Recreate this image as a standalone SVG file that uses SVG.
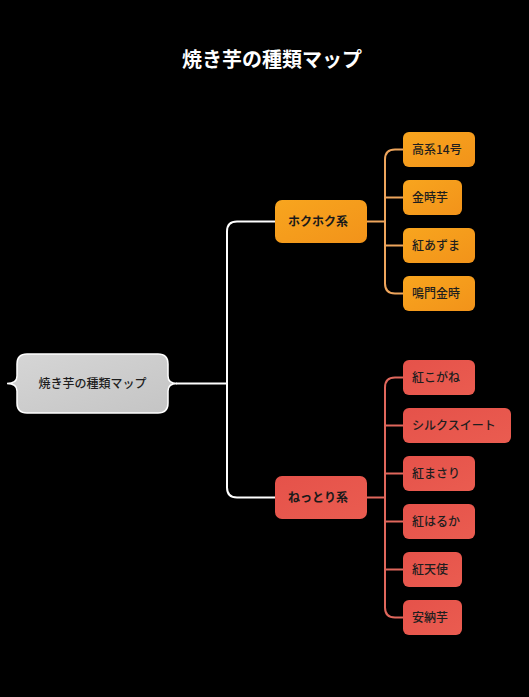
<svg xmlns="http://www.w3.org/2000/svg" width="529" height="697" viewBox="0 0 529 697">
<defs>
<linearGradient id="gO" x1="0" y1="0" x2="1" y2="1"><stop offset="0" stop-color="#f8a51e"/><stop offset="1" stop-color="#f2931a"/></linearGradient>
<linearGradient id="gR" x1="0" y1="0" x2="1" y2="1"><stop offset="0" stop-color="#e5524a"/><stop offset="1" stop-color="#ea5c50"/></linearGradient>
<linearGradient id="gG" x1="0" y1="0" x2="1" y2="1"><stop offset="0" stop-color="#d6d6d6"/><stop offset="1" stop-color="#c4c4c4"/></linearGradient>
</defs>
<style>
text{font-family:"Noto Sans CJK JP","Noto Sans",sans-serif}
.t{font-size:20px;font-weight:bold;fill:#fff}
.o{fill:url(#gO)}
.r{fill:url(#gR)}
.lbl{font-size:12px;font-weight:500;fill:#1e1e1e}
.main{font-size:12px;font-weight:bold;fill:#1a1a1a}
.cw{fill:none;stroke:#fff;stroke-width:2}
.co{fill:none;stroke:#eea55c;stroke-width:2}
.cr{fill:none;stroke:#e0675c;stroke-width:2}
</style>
<rect width="529" height="697" fill="#000"/>
<text class="t" x="272" y="67" text-anchor="middle">焼き芋の種類マップ</text>
<g id="connectors">
<path class="cw" d="M176,383.5 H227"/>
<path class="cw" d="M275,221.5 H237 Q227,221.5 227,231.5 V487.5 Q227,497.5 237,497.5 H275"/>
<path class="co" d="M367,221.5 H385 M403,149.5 H395 Q385,149.5 385,159.5 V283.5 Q385,293.5 395,293.5 H403 M385,197.5 H403 M385,245.5 H403"/>
<path class="cr" d="M367,497.5 H385 M403,377.5 H395 Q385,377.5 385,387.5 V607.5 Q385,617.5 395,617.5 H403 M385,425.5 H403 M385,473.5 H403 M385,521.5 H403 M385,569.5 H403"/>
</g>
<g id="root">
<path d="M27,354 H158 Q168,354 168,364 V376 Q168,383.5 177,383.5 Q168,383.5 168,391 V403 Q168,413 158,413 H27 Q17,413 17,403 V391 Q17,383.5 7,383.5 Q17,383.5 17,376 V364 Q17,354 27,354 Z" fill="url(#gG)" stroke="#fff" stroke-width="1.5"/>
<text class="lbl" x="92.5" y="388" text-anchor="middle">焼き芋の種類マップ</text>
</g>
<g id="hokuhoku"><rect class="o" x="275" y="200" width="92" height="43" rx="7"/><text class="main" x="288" y="226">ホクホク系</text></g>
<g id="leaf-kokei14"><rect class="o" x="403" y="132" width="72" height="35" rx="6"/><text class="lbl" x="412" y="154">高系14号</text></g>
<g id="leaf-kintoki"><rect class="o" x="403" y="180" width="59" height="35" rx="6"/><text class="lbl" x="412" y="202">金時芋</text></g>
<g id="leaf-beniazuma"><rect class="o" x="403" y="228" width="72" height="35" rx="6"/><text class="lbl" x="412" y="250">紅あずま</text></g>
<g id="leaf-narutokintoki"><rect class="o" x="403" y="276" width="72" height="35" rx="6"/><text class="lbl" x="412" y="298">鳴門金時</text></g>
<g id="nettori"><rect class="r" x="275" y="476" width="92" height="43" rx="7"/><text class="main" x="288" y="502">ねっとり系</text></g>
<g id="leaf-benikogane"><rect class="r" x="403" y="360" width="72" height="35" rx="6"/><text class="lbl" x="412" y="382">紅こがね</text></g>
<g id="leaf-silksweet"><rect class="r" x="403" y="408" width="108" height="35" rx="6"/><text class="lbl" x="412" y="430">シルクスイート</text></g>
<g id="leaf-benimasari"><rect class="r" x="403" y="456" width="72" height="35" rx="6"/><text class="lbl" x="412" y="478">紅まさり</text></g>
<g id="leaf-beniharuka"><rect class="r" x="403" y="504" width="72" height="35" rx="6"/><text class="lbl" x="412" y="526">紅はるか</text></g>
<g id="leaf-benitenshi"><rect class="r" x="403" y="552" width="59" height="35" rx="6"/><text class="lbl" x="412" y="574">紅天使</text></g>
<g id="leaf-annoimo"><rect class="r" x="403" y="600" width="59" height="35" rx="6"/><text class="lbl" x="412" y="622">安納芋</text></g>
</svg>
